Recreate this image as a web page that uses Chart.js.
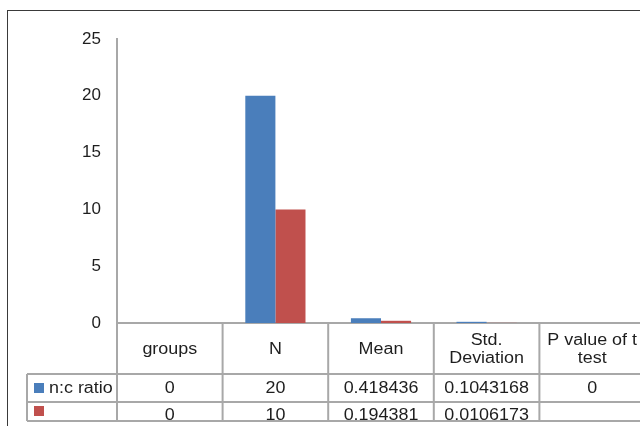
<!DOCTYPE html>
<html>
<head>
<meta charset="utf-8">
<script src="https://cdn.jsdelivr.net/npm/chart.js@4"></script>
<style>
  html, body { margin: 0; padding: 0; background: #fff; overflow: hidden; width: 640px; height: 426px; }
  #frame { position: absolute; left: 7px; top: 10px; width: 720px; height: 520px; border: 1px solid #3a3a3a; box-sizing: border-box; }
  #c { position: absolute; left: 0; top: 0; }
</style>
</head>
<body>
<div id="frame"></div>
<canvas id="c" width="660" height="440"></canvas>
<script>
// Categories and series shown in the chart and its data table
const categories = ['groups', 'N', 'Mean', 'Std. Deviation', 'P value of t test'];
const seriesNames = ['n:c ratio', ''];
const ratioValues = [0, 20, 0.418436, 0.1043168, 0];
const secondValues = [0, 10, 0.194381, 0.0106173, null];
const yMin = 0, yMax = 25, yStep = 5;

const seriesColors = ['#4a7ebb', '#c0504d'];
const FONT = '"Liberation Sans", Arial, sans-serif';
const TEXT_COLOR = '#1e1e1e';
const LINE_COLOR = '#a8a8a8';
const STRETCH = 1.12;

// Draws the data table underneath the plot, aligned to the category scale
const dataTable = {
  id: 'dataTable',
  afterDraw(chart) {
    const { ctx, chartArea: a, scales: { x } } = chart;
    const n = categories.length;
    const colW = (a.right - a.left) / n;
    const edges = [];
    for (let i = 0; i < n; i++) edges.push(x.getPixelForValue(i) - colW / 2);
    edges.push(x.getPixelForValue(n - 1) + colW / 2);

    const top = a.bottom;
    const headerBottom = top + 51;
    const row1Bottom = headerBottom + 28;
    const bottom = 421;
    const legendLeft = 27;

    ctx.save();
    ctx.font = '16px ' + FONT;
    ctx.fillStyle = TEXT_COLOR;
    ctx.textBaseline = 'middle';

    const put = (text, cx, cy, align) => {
      ctx.save();
      ctx.translate(cx, cy);
      ctx.scale(STRETCH, 1);
      ctx.textAlign = align || 'center';
      ctx.fillText(text, 0, 0);
      ctx.restore();
    };
    const wrap = (text, maxW) => {
      const words = text.split(' ');
      const lines = [];
      let cur = '';
      for (const w of words) {
        const test = cur ? cur + ' ' + w : w;
        if (cur && ctx.measureText(test).width * STRETCH > maxW) { lines.push(cur); cur = w; }
        else cur = test;
      }
      if (cur) lines.push(cur);
      return lines;
    };

    // header row: category names
    const headerMid = (top + headerBottom) / 2 + 1;
    categories.forEach((cat, i) => {
      const cx = x.getPixelForValue(i);
      const lines = wrap(cat, colW - 8);
      const lh = 18;
      lines.forEach((ln, k) => put(ln, cx, headerMid + (k - (lines.length - 1) / 2) * lh));
    });

    // series rows
    const rows = [ratioValues, secondValues];
    const rowCenters = [(headerBottom + row1Bottom) / 2 + 1, row1Bottom + 14];
    rows.forEach((vals, r) => {
      ctx.save();
      if (r === 1) {
        ctx.beginPath();
        ctx.rect(0, row1Bottom, chart.width, bottom - row1Bottom - 1);
        ctx.clip();
      }
      const cy = rowCenters[r];
      ctx.fillStyle = seriesColors[r];
      const sy = r === 0 ? headerBottom + 9 : row1Bottom + 4;
      ctx.fillRect(34, sy, 10, 10);
      ctx.fillStyle = TEXT_COLOR;
      put(seriesNames[r], 49, cy, 'left');
      vals.forEach((v, i) => {
        if (v === null) return;
        put(String(v), x.getPixelForValue(i), cy);
      });
      ctx.restore();
    });

    // grid lines of the table
    ctx.strokeStyle = LINE_COLOR;
    ctx.lineWidth = 2;
    ctx.beginPath();
    edges.forEach(ex => { ctx.moveTo(ex, top); ctx.lineTo(ex, bottom); });
    ctx.moveTo(legendLeft, headerBottom); ctx.lineTo(legendLeft, bottom);
    [headerBottom, row1Bottom, bottom].forEach(yy => { ctx.moveTo(legendLeft, yy); ctx.lineTo(a.right, yy); });
    ctx.stroke();
    ctx.restore();
  }
};

new Chart(document.getElementById('c'), {
  type: 'bar',
  data: {
    labels: categories,
    datasets: [
      { label: seriesNames[0], data: ratioValues, backgroundColor: seriesColors[0], borderWidth: 0 },
      { label: seriesNames[1], data: secondValues, backgroundColor: seriesColors[1], borderWidth: 0 }
    ]
  },
  options: {
    responsive: false,
    animation: false,
    events: [],
    layout: { padding: { left: 0, right: 15, top: 39, bottom: 117 } },
    categoryPercentage: 0.57,
    barPercentage: 1.0,
    plugins: { legend: { display: false }, tooltip: { enabled: false } },
    scales: {
      x: {
        grid: { display: false, drawTicks: false },
        border: { display: true, color: LINE_COLOR, width: 2 },
        ticks: { display: false },
        afterFit(s) { s.height = 0; }
      },
      y: {
        min: yMin,
        max: yMax,
        ticks: { stepSize: yStep, padding: 16, color: TEXT_COLOR, font: { family: FONT, size: 17 } },
        grid: { display: false, drawTicks: false },
        border: { display: true, color: LINE_COLOR, width: 2 },
        afterFit(s) { s.width = 117; }
      }
    }
  },
  plugins: [dataTable]
});
</script>
</body>
</html>
